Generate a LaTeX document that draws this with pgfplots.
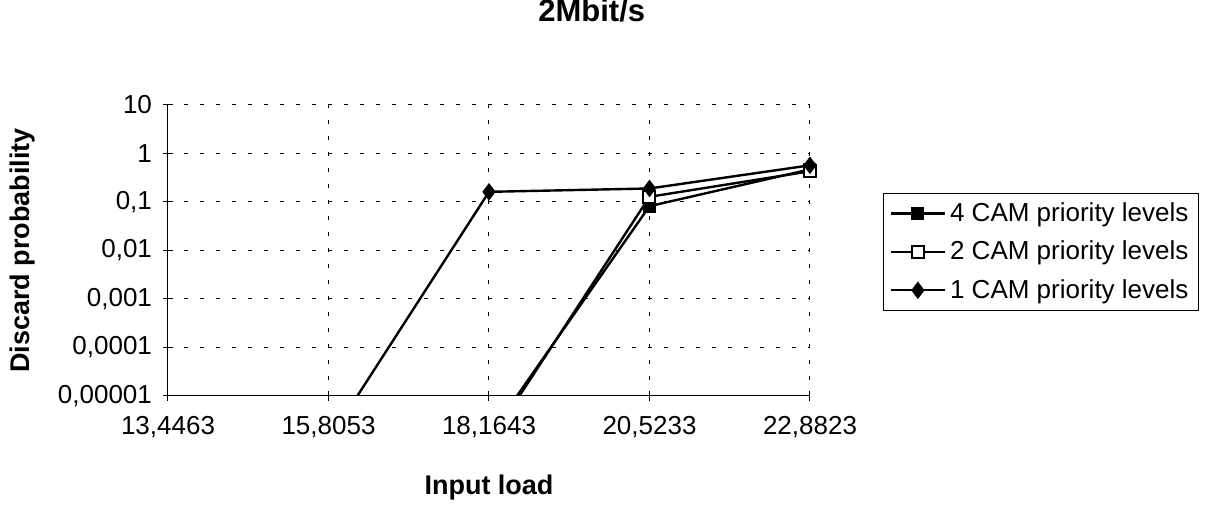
\documentclass[border=0pt]{standalone}
\usepackage{fontspec}
\setmainfont{Liberation Sans}
\usepackage{pgfplots}
\pgfplotsset{compat=1.18}

\begin{document}
\begin{tikzpicture}
	\path[use as bounding box] (0,0) rectangle (603.5pt,253pt);
	\begin{axis}[
			at={(84pt,55pt)}, anchor=south west,
			scale only axis,
			width=321pt, height=145.5pt,
			ymode=log,
			ymin=1e-5, ymax=10,
			xmin=0, xmax=4,
			xtick={0,1,2,3,4},
			xticklabels={{13,4463},{15,8053},{18,1643},{20,5233},{22,8823}},
			ytick={1e-5,1e-4,1e-3,1e-2,1e-1,1,10},
			yticklabels={{0,00001},{0,0001},{0,001},{0,01},{0,1},{1},{10}},
			yminorticks=false,
			font=\fontsize{13}{15.6}\selectfont,
			tick label style={font=\fontsize{13}{15.6}\selectfont},
			axis lines=left,
			axis line style={-, line width=0.5pt},
			tick align=center,
			major tick length=5pt,
			tick style={black, line width=0.5pt},
			grid=major,
			major grid style={black, line width=0.5pt, dash pattern=on 2pt off 6pt},
			xticklabel style={yshift=-4pt},
			yticklabel style={xshift=-2pt},
			title={\bfseries 2Mbit/s},
			title style={at={(axis description cs:0.660,1.282)}, anchor=center,
					font=\fontsize{15.5}{18}\selectfont},
			xlabel={\bfseries Input load},
			xlabel style={at={(axis description cs:0.5,-0.316)}, anchor=center,
					font=\fontsize{13.5}{16}\selectfont},
			ylabel={\bfseries Discard probability},
			ylabel style={at={(axis description cs:-0.227,0.5)}, anchor=center,
					font=\fontsize{13.5}{16}\selectfont},
			legend style={
					at={(axis description cs:1.114,0.495)}, anchor=west,
					draw=black, line width=0.5pt,
					font=\fontsize{13}{15.6}\selectfont,
					row sep=4.25pt, inner xsep=3pt, inner ysep=2.5pt,
				},
			legend cell align=left,
			legend image code/.code={
					\draw[#1, line width=1.2pt] (0pt,0pt) -- (27pt,0pt);
					\draw[#1, mark repeat=2, mark phase=2, line width=0.5pt] plot coordinates {(0pt,0pt) (13.5pt,0pt) (27pt,0pt)};
				},
			every axis plot/.append style={black, line width=1.2pt},
		]
		\addplot[mark=square*, mark size=3pt, mark options={solid, fill=black, line width=0.5pt}]
		coordinates {(2,1.5e-6) (3,0.082) (4,0.47)};
		\addlegendentry{4 CAM priority levels}
		\addplot[mark=square*, mark size=3pt, mark options={solid, fill=white, line width=1pt}]
		coordinates {(2,1.1e-6) (3,0.128) (4,0.43)};
		\addlegendentry{2 CAM priority levels}
		\addplot[mark=diamond*, mark size=4pt, mark options={solid, fill=black, line width=0.5pt}]
		coordinates {(1,1.2e-6) (2,0.162) (3,0.19) (4,0.57)};
		\addlegendentry{1 CAM priority levels}
	\end{axis}
\end{tikzpicture}
\end{document}
